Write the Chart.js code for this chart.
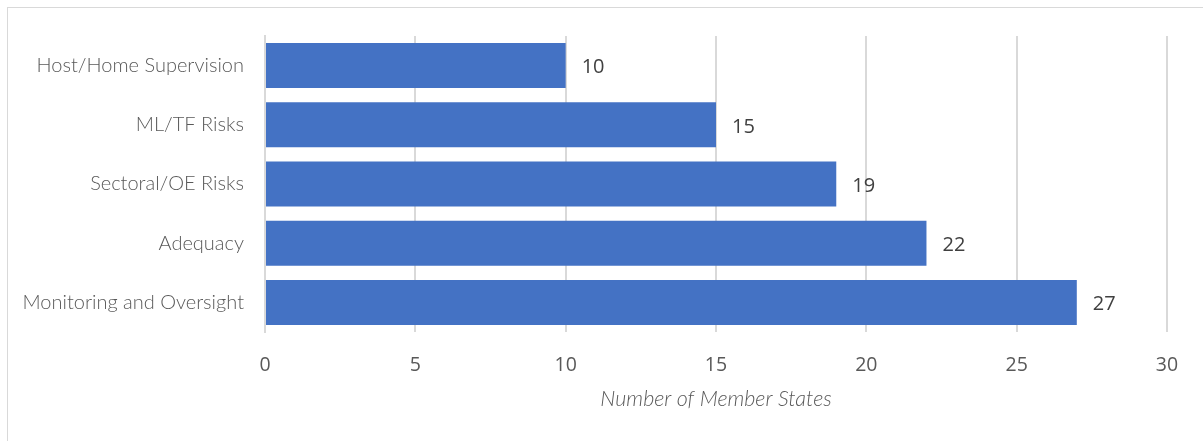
<!DOCTYPE html>
<html lang="en">
<head>
    <meta charset="UTF-8">
    <title>Member States</title>
    <script src="https://cdn.jsdelivr.net/npm/chart.js"></script>
    <style>
        body { margin: 0; background: #fff; }
        #wrap { position: relative; width: 1203px; height: 441px; }
        #frame { position: absolute; left: 7px; top: 7px; right: 0; bottom: 0;
                 border-left: 1px solid #d9d9d9; border-top: 1px solid #d9d9d9; pointer-events: none; }
    </style>
</head>
<body>
    <div id="wrap">
        <canvas id="myChart" width="1203" height="441"></canvas>
        <div id="frame"></div>
    </div>
    <script>
        const categories = ['Host/Home Supervision', 'ML/TF Risks', 'Sectoral/OE Risks', 'Adequacy', 'Monitoring and Oversight'];
        const memberStates = [10, 15, 19, 22, 27];
        const xTicks = [0, 5, 10, 15, 20, 25, 30];

        // value labels at the end of each bar
        const valueLabels = {
            id: 'valueLabels',
            afterDatasetsDraw(chart) {
                const ctx = chart.ctx;
                const meta = chart.getDatasetMeta(0);
                ctx.save();
                ctx.font = '20px "Open Sans"';
                ctx.fillStyle = '#404040';
                ctx.textAlign = 'left';
                ctx.textBaseline = 'middle';
                meta.data.forEach((bar, i) => {
                    ctx.fillText(String(memberStates[i]), bar.x + 16, bar.y + 2);
                });
                ctx.restore();
            }
        };

        const ctx = document.getElementById('myChart').getContext('2d');
        const chart = new Chart(ctx, {
            type: 'bar',
            data: {
                labels: categories,
                datasets: [{
                    data: memberStates,
                    backgroundColor: '#4472c4',
                    borderWidth: 0,
                    categoryPercentage: 1,
                    barPercentage: 0.76
                }]
            },
            options: {
                indexAxis: 'y',
                responsive: false,
                animation: false,
                layout: { padding: { top: 36, right: 36, left: 0, bottom: 25 } },
                plugins: {
                    legend: { display: false },
                    tooltip: { enabled: false }
                },
                scales: {
                    x: {
                        min: 0,
                        max: 30,
                        afterBuildTicks: (scale) => { scale.ticks = xTicks.map(v => ({ value: v })); },
                        afterFit: (scale) => { scale.height = 84; },
                        grid: { color: '#d9d9d9', lineWidth: 2, drawTicks: false },
                        border: { display: false },
                        ticks: {
                            padding: 22,
                            color: '#595959',
                            font: { family: '"Open Sans"', size: 19.5 }
                        },
                        title: {
                            display: true,
                            text: 'Number of Member States',
                            color: '#595959',
                            font: { family: 'Lato', size: 21.5, style: 'italic', weight: 300 },
                            padding: { top: 10 }
                        }
                    },
                    y: {
                        afterFit: (scale) => { scale.width = 265; },
                        grid: { display: false, drawTicks: false },
                        border: { display: true, color: '#d9d9d9', width: 2 },
                        ticks: {
                            padding: 21,
                            color: '#595959',
                            font: { family: 'Lato', size: 20, weight: 300 }
                        }
                    }
                }
            },
            plugins: [valueLabels]
        });
    </script>
</body>
</html>
